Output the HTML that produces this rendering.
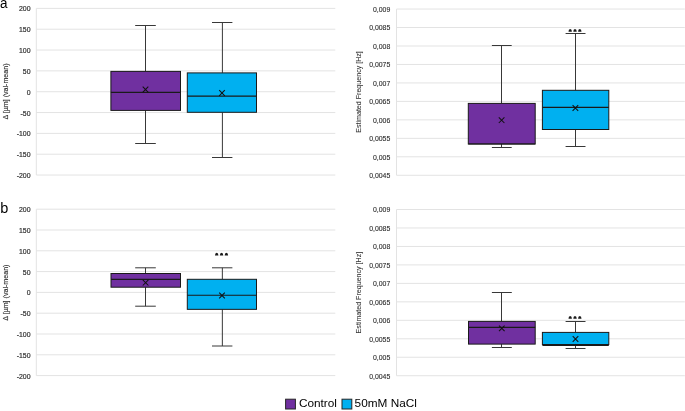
<!DOCTYPE html><html><head><meta charset="utf-8"><style>html,body{margin:0;padding:0;background:#fff;}svg{display:block;font-family:"Liberation Sans",sans-serif;}text{filter:grayscale(1);}</style></head><body>
<svg width="685" height="411" viewBox="0 0 685 411">
<rect width="685" height="411" fill="#fff"/>
<text transform="translate(0.1,7.7) scale(0.88,1)" font-size="15.3" fill="#000">a</text>
<text transform="translate(0.25,212.7) scale(0.95,1)" font-size="15.3" fill="#000">b</text>
<line x1="36.3" y1="8.4" x2="335.3" y2="8.4" stroke="#E3E3E3" stroke-width="1"/>
<line x1="36.3" y1="29.23" x2="335.3" y2="29.23" stroke="#E3E3E3" stroke-width="1"/>
<line x1="36.3" y1="50.06" x2="335.3" y2="50.06" stroke="#E3E3E3" stroke-width="1"/>
<line x1="36.3" y1="70.89" x2="335.3" y2="70.89" stroke="#E3E3E3" stroke-width="1"/>
<line x1="36.3" y1="91.72" x2="335.3" y2="91.72" stroke="#E3E3E3" stroke-width="1"/>
<line x1="36.3" y1="112.55" x2="335.3" y2="112.55" stroke="#E3E3E3" stroke-width="1"/>
<line x1="36.3" y1="133.38" x2="335.3" y2="133.38" stroke="#E3E3E3" stroke-width="1"/>
<line x1="36.3" y1="154.21" x2="335.3" y2="154.21" stroke="#E3E3E3" stroke-width="1"/>
<line x1="36.3" y1="175.04" x2="335.3" y2="175.04" stroke="#E3E3E3" stroke-width="1"/>
<line x1="36.3" y1="8.4" x2="36.3" y2="175.04" stroke="#E3E3E3" stroke-width="1"/>
<text transform="translate(30.5,8.70) scale(0.865,1)" text-anchor="end" dominant-baseline="central" font-size="8.0" fill="#303030" stroke="#303030" stroke-width="0.22">200</text>
<text transform="translate(30.5,29.53) scale(0.865,1)" text-anchor="end" dominant-baseline="central" font-size="8.0" fill="#303030" stroke="#303030" stroke-width="0.22">150</text>
<text transform="translate(30.5,50.36) scale(0.865,1)" text-anchor="end" dominant-baseline="central" font-size="8.0" fill="#303030" stroke="#303030" stroke-width="0.22">100</text>
<text transform="translate(30.5,71.19) scale(0.865,1)" text-anchor="end" dominant-baseline="central" font-size="8.0" fill="#303030" stroke="#303030" stroke-width="0.22">50</text>
<text transform="translate(30.5,92.02) scale(0.865,1)" text-anchor="end" dominant-baseline="central" font-size="8.0" fill="#303030" stroke="#303030" stroke-width="0.22">0</text>
<text transform="translate(30.5,112.85) scale(0.865,1)" text-anchor="end" dominant-baseline="central" font-size="8.0" fill="#303030" stroke="#303030" stroke-width="0.22">-50</text>
<text transform="translate(30.5,133.68) scale(0.865,1)" text-anchor="end" dominant-baseline="central" font-size="8.0" fill="#303030" stroke="#303030" stroke-width="0.22">-100</text>
<text transform="translate(30.5,154.51) scale(0.865,1)" text-anchor="end" dominant-baseline="central" font-size="8.0" fill="#303030" stroke="#303030" stroke-width="0.22">-150</text>
<text transform="translate(30.5,175.34) scale(0.865,1)" text-anchor="end" dominant-baseline="central" font-size="8.0" fill="#303030" stroke="#303030" stroke-width="0.22">-200</text>
<text transform="translate(6.3,91.5) rotate(-90)" text-anchor="middle" dominant-baseline="central" font-size="7.1" stroke="#303030" stroke-width="0.15" fill="#303030">&#916; [&#181;m] (val-mean)</text>
<line x1="145.5" y1="25.5" x2="145.5" y2="71.4" stroke="#383838" stroke-width="1"/>
<line x1="145.5" y1="110.4" x2="145.5" y2="143.5" stroke="#383838" stroke-width="1"/>
<line x1="135.2" y1="25.5" x2="155.8" y2="25.5" stroke="#383838" stroke-width="1"/>
<line x1="135.2" y1="143.5" x2="155.8" y2="143.5" stroke="#383838" stroke-width="1"/>
<rect x="110.9" y="71.4" width="69.6" height="39.0" fill="#7030A0" stroke="#1a1a1a" stroke-width="1"/>
<line x1="110.9" y1="92.3" x2="180.5" y2="92.3" stroke="#1a1a1a" stroke-width="1.2"/>
<path d="M142.7,86.7L148.3,92.3M142.7,92.3L148.3,86.7" stroke="#111" stroke-width="1.05"/>
<line x1="222.4" y1="22.5" x2="222.4" y2="72.9" stroke="#383838" stroke-width="1"/>
<line x1="222.4" y1="112.3" x2="222.4" y2="157.5" stroke="#383838" stroke-width="1"/>
<line x1="212.0" y1="22.5" x2="232.4" y2="22.5" stroke="#383838" stroke-width="1"/>
<line x1="212.0" y1="157.5" x2="232.4" y2="157.5" stroke="#383838" stroke-width="1"/>
<rect x="187.3" y="72.9" width="69.19999999999999" height="39.39999999999999" fill="#00B0F0" stroke="#1a1a1a" stroke-width="1"/>
<line x1="187.3" y1="96.2" x2="256.5" y2="96.2" stroke="#1a1a1a" stroke-width="1.2"/>
<path d="M219.2,90.2L224.8,95.8M219.2,95.8L224.8,90.2" stroke="#111" stroke-width="1.05"/>
<line x1="396.5" y1="9.05" x2="684.8" y2="9.05" stroke="#E3E3E3" stroke-width="1"/>
<line x1="396.5" y1="27.52" x2="684.8" y2="27.52" stroke="#E3E3E3" stroke-width="1"/>
<line x1="396.5" y1="45.99" x2="684.8" y2="45.99" stroke="#E3E3E3" stroke-width="1"/>
<line x1="396.5" y1="64.46" x2="684.8" y2="64.46" stroke="#E3E3E3" stroke-width="1"/>
<line x1="396.5" y1="82.93" x2="684.8" y2="82.93" stroke="#E3E3E3" stroke-width="1"/>
<line x1="396.5" y1="101.4" x2="684.8" y2="101.4" stroke="#E3E3E3" stroke-width="1"/>
<line x1="396.5" y1="119.87" x2="684.8" y2="119.87" stroke="#E3E3E3" stroke-width="1"/>
<line x1="396.5" y1="138.34" x2="684.8" y2="138.34" stroke="#E3E3E3" stroke-width="1"/>
<line x1="396.5" y1="156.81" x2="684.8" y2="156.81" stroke="#E3E3E3" stroke-width="1"/>
<line x1="396.5" y1="175.28" x2="684.8" y2="175.28" stroke="#E3E3E3" stroke-width="1"/>
<line x1="396.5" y1="9.05" x2="396.5" y2="175.28" stroke="#E3E3E3" stroke-width="1"/>
<text transform="translate(390.3,9.25) scale(0.875,1)" text-anchor="end" dominant-baseline="central" font-size="7.9" fill="#303030" stroke="#303030" stroke-width="0.14">0,009</text>
<text transform="translate(390.3,27.72) scale(0.875,1)" text-anchor="end" dominant-baseline="central" font-size="7.9" fill="#303030" stroke="#303030" stroke-width="0.14">0,0085</text>
<text transform="translate(390.3,46.19) scale(0.875,1)" text-anchor="end" dominant-baseline="central" font-size="7.9" fill="#303030" stroke="#303030" stroke-width="0.14">0,008</text>
<text transform="translate(390.3,64.66) scale(0.875,1)" text-anchor="end" dominant-baseline="central" font-size="7.9" fill="#303030" stroke="#303030" stroke-width="0.14">0,0075</text>
<text transform="translate(390.3,83.13) scale(0.875,1)" text-anchor="end" dominant-baseline="central" font-size="7.9" fill="#303030" stroke="#303030" stroke-width="0.14">0,007</text>
<text transform="translate(390.3,101.60) scale(0.875,1)" text-anchor="end" dominant-baseline="central" font-size="7.9" fill="#303030" stroke="#303030" stroke-width="0.14">0,0065</text>
<text transform="translate(390.3,120.07) scale(0.875,1)" text-anchor="end" dominant-baseline="central" font-size="7.9" fill="#303030" stroke="#303030" stroke-width="0.14">0,006</text>
<text transform="translate(390.3,138.54) scale(0.875,1)" text-anchor="end" dominant-baseline="central" font-size="7.9" fill="#303030" stroke="#303030" stroke-width="0.14">0,0055</text>
<text transform="translate(390.3,157.01) scale(0.875,1)" text-anchor="end" dominant-baseline="central" font-size="7.9" fill="#303030" stroke="#303030" stroke-width="0.14">0,005</text>
<text transform="translate(390.3,175.48) scale(0.875,1)" text-anchor="end" dominant-baseline="central" font-size="7.9" fill="#303030" stroke="#303030" stroke-width="0.14">0,0045</text>
<text transform="translate(359.3,92.0) rotate(-90)" text-anchor="middle" dominant-baseline="central" font-size="7.1" stroke="#303030" stroke-width="0.06" fill="#303030">Estimated Frequency [Hz]</text>
<line x1="501.5" y1="45.5" x2="501.5" y2="103.4" stroke="#383838" stroke-width="1"/>
<line x1="501.5" y1="144.0" x2="501.5" y2="147.5" stroke="#383838" stroke-width="1"/>
<line x1="491.9" y1="45.5" x2="511.7" y2="45.5" stroke="#383838" stroke-width="1"/>
<line x1="491.9" y1="147.5" x2="511.7" y2="147.5" stroke="#383838" stroke-width="1"/>
<rect x="468.3" y="103.4" width="66.90000000000003" height="40.599999999999994" fill="#7030A0" stroke="#1a1a1a" stroke-width="1"/>
<line x1="468.3" y1="144.0" x2="535.2" y2="144.0" stroke="#1a1a1a" stroke-width="1.2"/>
<path d="M498.8,117.4L504.40000000000003,123.0M498.8,123.0L504.40000000000003,117.4" stroke="#111" stroke-width="1.05"/>
<line x1="575.5" y1="33.5" x2="575.5" y2="90.3" stroke="#383838" stroke-width="1"/>
<line x1="575.5" y1="129.5" x2="575.5" y2="146.5" stroke="#383838" stroke-width="1"/>
<line x1="565.6" y1="33.5" x2="585.5" y2="33.5" stroke="#383838" stroke-width="1"/>
<line x1="565.6" y1="146.5" x2="585.5" y2="146.5" stroke="#383838" stroke-width="1"/>
<rect x="542.4" y="90.3" width="66.39999999999998" height="39.2" fill="#00B0F0" stroke="#1a1a1a" stroke-width="1"/>
<line x1="542.4" y1="107.4" x2="608.8" y2="107.4" stroke="#1a1a1a" stroke-width="1.2"/>
<path d="M572.6,105.2L578.1999999999999,110.8M572.6,110.8L578.1999999999999,105.2" stroke="#111" stroke-width="1.05"/>
<path d="M568.50,31.70Q568.50,28.90 570.20,28.90Q571.90,28.90 571.90,31.70Z" fill="#1a1a1a"/>
<path d="M573.30,31.70Q573.30,28.90 575.00,28.90Q576.70,28.90 576.70,31.70Z" fill="#1a1a1a"/>
<path d="M578.10,31.70Q578.10,28.90 579.80,28.90Q581.50,28.90 581.50,31.70Z" fill="#1a1a1a"/>
<line x1="36.3" y1="209.2" x2="335.3" y2="209.2" stroke="#E3E3E3" stroke-width="1"/>
<line x1="36.3" y1="230.0" x2="335.3" y2="230.0" stroke="#E3E3E3" stroke-width="1"/>
<line x1="36.3" y1="250.8" x2="335.3" y2="250.8" stroke="#E3E3E3" stroke-width="1"/>
<line x1="36.3" y1="271.6" x2="335.3" y2="271.6" stroke="#E3E3E3" stroke-width="1"/>
<line x1="36.3" y1="292.4" x2="335.3" y2="292.4" stroke="#E3E3E3" stroke-width="1"/>
<line x1="36.3" y1="313.2" x2="335.3" y2="313.2" stroke="#E3E3E3" stroke-width="1"/>
<line x1="36.3" y1="334.0" x2="335.3" y2="334.0" stroke="#E3E3E3" stroke-width="1"/>
<line x1="36.3" y1="354.8" x2="335.3" y2="354.8" stroke="#E3E3E3" stroke-width="1"/>
<line x1="36.3" y1="375.6" x2="335.3" y2="375.6" stroke="#E3E3E3" stroke-width="1"/>
<line x1="36.3" y1="209.2" x2="36.3" y2="375.6" stroke="#E3E3E3" stroke-width="1"/>
<text transform="translate(30.5,209.50) scale(0.865,1)" text-anchor="end" dominant-baseline="central" font-size="8.0" fill="#303030" stroke="#303030" stroke-width="0.22">200</text>
<text transform="translate(30.5,230.30) scale(0.865,1)" text-anchor="end" dominant-baseline="central" font-size="8.0" fill="#303030" stroke="#303030" stroke-width="0.22">150</text>
<text transform="translate(30.5,251.10) scale(0.865,1)" text-anchor="end" dominant-baseline="central" font-size="8.0" fill="#303030" stroke="#303030" stroke-width="0.22">100</text>
<text transform="translate(30.5,271.90) scale(0.865,1)" text-anchor="end" dominant-baseline="central" font-size="8.0" fill="#303030" stroke="#303030" stroke-width="0.22">50</text>
<text transform="translate(30.5,292.70) scale(0.865,1)" text-anchor="end" dominant-baseline="central" font-size="8.0" fill="#303030" stroke="#303030" stroke-width="0.22">0</text>
<text transform="translate(30.5,313.50) scale(0.865,1)" text-anchor="end" dominant-baseline="central" font-size="8.0" fill="#303030" stroke="#303030" stroke-width="0.22">-50</text>
<text transform="translate(30.5,334.30) scale(0.865,1)" text-anchor="end" dominant-baseline="central" font-size="8.0" fill="#303030" stroke="#303030" stroke-width="0.22">-100</text>
<text transform="translate(30.5,355.10) scale(0.865,1)" text-anchor="end" dominant-baseline="central" font-size="8.0" fill="#303030" stroke="#303030" stroke-width="0.22">-150</text>
<text transform="translate(30.5,375.90) scale(0.865,1)" text-anchor="end" dominant-baseline="central" font-size="8.0" fill="#303030" stroke="#303030" stroke-width="0.22">-200</text>
<text transform="translate(6.3,292.6) rotate(-90)" text-anchor="middle" dominant-baseline="central" font-size="7.1" stroke="#303030" stroke-width="0.15" fill="#303030">&#916; [&#181;m] (val-mean)</text>
<line x1="145.5" y1="267.8" x2="145.5" y2="273.5" stroke="#383838" stroke-width="1"/>
<line x1="145.5" y1="287.2" x2="145.5" y2="306.2" stroke="#383838" stroke-width="1"/>
<line x1="135.2" y1="267.8" x2="155.8" y2="267.8" stroke="#383838" stroke-width="1"/>
<line x1="135.2" y1="306.2" x2="155.8" y2="306.2" stroke="#383838" stroke-width="1"/>
<rect x="111.0" y="273.5" width="69.5" height="13.699999999999989" fill="#7030A0" stroke="#1a1a1a" stroke-width="1"/>
<line x1="111.0" y1="279.4" x2="180.5" y2="279.4" stroke="#1a1a1a" stroke-width="1.2"/>
<path d="M142.79999999999998,279.9L148.4,285.5M142.79999999999998,285.5L148.4,279.9" stroke="#111" stroke-width="1.05"/>
<line x1="222.35" y1="267.8" x2="222.35" y2="279.3" stroke="#383838" stroke-width="1"/>
<line x1="222.35" y1="309.35" x2="222.35" y2="346.0" stroke="#383838" stroke-width="1"/>
<line x1="212.0" y1="267.8" x2="232.4" y2="267.8" stroke="#383838" stroke-width="1"/>
<line x1="212.0" y1="346.0" x2="232.4" y2="346.0" stroke="#383838" stroke-width="1"/>
<rect x="187.3" y="279.3" width="69.19999999999999" height="30.05000000000001" fill="#00B0F0" stroke="#1a1a1a" stroke-width="1"/>
<line x1="187.3" y1="295.25" x2="256.5" y2="295.25" stroke="#1a1a1a" stroke-width="1.2"/>
<path d="M219.2,292.7L224.8,298.3M219.2,298.3L224.8,292.7" stroke="#111" stroke-width="1.05"/>
<path d="M215.00,255.50Q215.00,252.70 216.70,252.70Q218.40,252.70 218.40,255.50Z" fill="#1a1a1a"/>
<path d="M219.85,255.50Q219.85,252.70 221.55,252.70Q223.25,252.70 223.25,255.50Z" fill="#1a1a1a"/>
<path d="M224.70,255.50Q224.70,252.70 226.40,252.70Q228.10,252.70 228.10,255.50Z" fill="#1a1a1a"/>
<line x1="396.5" y1="209.5" x2="684.8" y2="209.5" stroke="#E3E3E3" stroke-width="1"/>
<line x1="396.5" y1="227.97" x2="684.8" y2="227.97" stroke="#E3E3E3" stroke-width="1"/>
<line x1="396.5" y1="246.44" x2="684.8" y2="246.44" stroke="#E3E3E3" stroke-width="1"/>
<line x1="396.5" y1="264.91" x2="684.8" y2="264.91" stroke="#E3E3E3" stroke-width="1"/>
<line x1="396.5" y1="283.38" x2="684.8" y2="283.38" stroke="#E3E3E3" stroke-width="1"/>
<line x1="396.5" y1="301.85" x2="684.8" y2="301.85" stroke="#E3E3E3" stroke-width="1"/>
<line x1="396.5" y1="320.32" x2="684.8" y2="320.32" stroke="#E3E3E3" stroke-width="1"/>
<line x1="396.5" y1="338.79" x2="684.8" y2="338.79" stroke="#E3E3E3" stroke-width="1"/>
<line x1="396.5" y1="357.26" x2="684.8" y2="357.26" stroke="#E3E3E3" stroke-width="1"/>
<line x1="396.5" y1="375.73" x2="684.8" y2="375.73" stroke="#E3E3E3" stroke-width="1"/>
<line x1="396.5" y1="209.5" x2="396.5" y2="375.73" stroke="#E3E3E3" stroke-width="1"/>
<text transform="translate(390.3,209.70) scale(0.875,1)" text-anchor="end" dominant-baseline="central" font-size="7.9" fill="#303030" stroke="#303030" stroke-width="0.14">0,009</text>
<text transform="translate(390.3,228.17) scale(0.875,1)" text-anchor="end" dominant-baseline="central" font-size="7.9" fill="#303030" stroke="#303030" stroke-width="0.14">0,0085</text>
<text transform="translate(390.3,246.64) scale(0.875,1)" text-anchor="end" dominant-baseline="central" font-size="7.9" fill="#303030" stroke="#303030" stroke-width="0.14">0,008</text>
<text transform="translate(390.3,265.11) scale(0.875,1)" text-anchor="end" dominant-baseline="central" font-size="7.9" fill="#303030" stroke="#303030" stroke-width="0.14">0,0075</text>
<text transform="translate(390.3,283.58) scale(0.875,1)" text-anchor="end" dominant-baseline="central" font-size="7.9" fill="#303030" stroke="#303030" stroke-width="0.14">0,007</text>
<text transform="translate(390.3,302.05) scale(0.875,1)" text-anchor="end" dominant-baseline="central" font-size="7.9" fill="#303030" stroke="#303030" stroke-width="0.14">0,0065</text>
<text transform="translate(390.3,320.52) scale(0.875,1)" text-anchor="end" dominant-baseline="central" font-size="7.9" fill="#303030" stroke="#303030" stroke-width="0.14">0,006</text>
<text transform="translate(390.3,338.99) scale(0.875,1)" text-anchor="end" dominant-baseline="central" font-size="7.9" fill="#303030" stroke="#303030" stroke-width="0.14">0,0055</text>
<text transform="translate(390.3,357.46) scale(0.875,1)" text-anchor="end" dominant-baseline="central" font-size="7.9" fill="#303030" stroke="#303030" stroke-width="0.14">0,005</text>
<text transform="translate(390.3,375.93) scale(0.875,1)" text-anchor="end" dominant-baseline="central" font-size="7.9" fill="#303030" stroke="#303030" stroke-width="0.14">0,0045</text>
<text transform="translate(359.3,292.6) rotate(-90)" text-anchor="middle" dominant-baseline="central" font-size="7.1" stroke="#303030" stroke-width="0.06" fill="#303030">Estimated Frequency [Hz]</text>
<line x1="501.5" y1="292.5" x2="501.5" y2="321.4" stroke="#383838" stroke-width="1"/>
<line x1="501.5" y1="344.1" x2="501.5" y2="347.5" stroke="#383838" stroke-width="1"/>
<line x1="491.9" y1="292.5" x2="511.8" y2="292.5" stroke="#383838" stroke-width="1"/>
<line x1="491.9" y1="347.5" x2="511.8" y2="347.5" stroke="#383838" stroke-width="1"/>
<rect x="468.5" y="321.4" width="66.70000000000005" height="22.700000000000045" fill="#7030A0" stroke="#1a1a1a" stroke-width="1"/>
<line x1="468.5" y1="327.4" x2="535.2" y2="327.4" stroke="#1a1a1a" stroke-width="1.2"/>
<path d="M499.0,325.59999999999997L504.6,331.2M499.0,331.2L504.6,325.59999999999997" stroke="#111" stroke-width="1.05"/>
<line x1="575.5" y1="321.5" x2="575.5" y2="332.4" stroke="#383838" stroke-width="1"/>
<line x1="575.5" y1="344.5" x2="575.5" y2="348.5" stroke="#383838" stroke-width="1"/>
<line x1="565.6" y1="321.5" x2="585.5" y2="321.5" stroke="#383838" stroke-width="1"/>
<line x1="565.6" y1="348.5" x2="585.5" y2="348.5" stroke="#383838" stroke-width="1"/>
<rect x="542.4" y="332.4" width="66.39999999999998" height="12.100000000000023" fill="#00B0F0" stroke="#1a1a1a" stroke-width="1"/>
<line x1="542.4" y1="345.3" x2="608.8" y2="345.3" stroke="#1a1a1a" stroke-width="1.2"/>
<path d="M572.7,336.2L578.3,341.8M572.7,341.8L578.3,336.2" stroke="#111" stroke-width="1.05"/>
<path d="M568.50,318.70Q568.50,315.90 570.20,315.90Q571.90,315.90 571.90,318.70Z" fill="#1a1a1a"/>
<path d="M573.30,318.70Q573.30,315.90 575.00,315.90Q576.70,315.90 576.70,318.70Z" fill="#1a1a1a"/>
<path d="M578.10,318.70Q578.10,315.90 579.80,315.90Q581.50,315.90 581.50,318.70Z" fill="#1a1a1a"/>
<rect x="285.6" y="399.2" width="9.8" height="9.8" fill="#7030A0" stroke="#262626" stroke-width="1"/>
<text x="298.9" y="407.4" font-size="11.8" fill="#000">Control</text>
<rect x="342.0" y="399.2" width="9.8" height="9.8" fill="#00B0F0" stroke="#262626" stroke-width="1"/>
<text x="354.6" y="407.4" font-size="11.8" fill="#000">50mM NaCl</text>
</svg></body></html>
